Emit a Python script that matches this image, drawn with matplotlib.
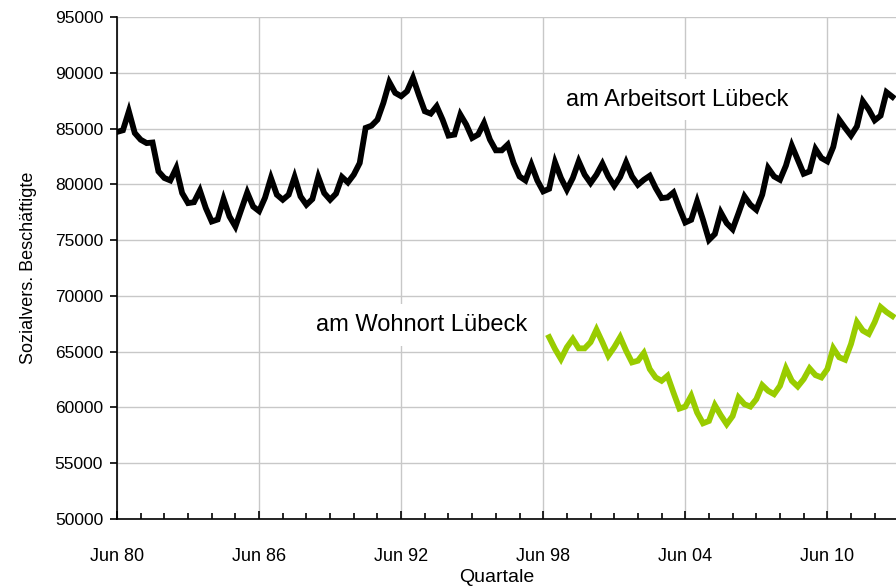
import matplotlib.pyplot as plt
import matplotlib as mpl
import numpy as np

mpl.rcParams['font.family'] = ['Liberation Sans', 'DejaVu Sans']

# Sozialversicherungspflichtig Beschäftigte, quarterly from Jun 1980
arbeitsort = [
    84700, 84850, 86550, 84600, 84000, 83700, 83750, 81160, 80570, 80350,
    81460, 79220, 78320, 78400, 79450, 77870, 76670, 76850, 78680, 77120,
    76220, 77750, 79270, 78010, 77600, 78800, 80570, 79070, 78620, 79070,
    80660, 78920, 78170, 78680, 80660, 79220, 78620, 79170, 80660, 80170,
    80870, 81910, 85060, 85260, 85800, 87300, 89160, 88200, 87900, 88350,
    89550, 88000, 86550, 86340, 87000, 85800, 84370, 84460, 86250, 85350,
    84160, 84460, 85500, 84010, 83050, 83050, 83560, 81910, 80710, 80350,
    81760, 80350, 79370, 79600, 81970, 80570, 79520, 80570, 82060, 80870,
    80120, 80870, 81850, 80710, 79870, 80660, 81970, 80710, 79960, 80410,
    80770, 79670, 78770, 78830, 79270, 77870, 76580, 76820, 78470, 76820,
    75020, 75550, 77480, 76520, 75980, 77420, 78920, 78170, 77720, 79070,
    81460, 80710, 80410, 81670, 83470, 82210, 80950, 81160, 83170, 82360,
    82060, 83350, 85800, 85060, 84370, 85200, 87450, 86700, 85740, 86160,
    88260, 87840,
]

wohnort_start = 73  # first quarter with data (Sep 98)
wohnort = [
    66300, 65240, 64340, 65400, 66140, 65300, 65300, 65850, 66980, 65850,
    64640, 65400, 66300, 65090, 64040, 64190, 64880, 63440, 62690, 62390,
    62840, 61340, 59900, 60080, 61040, 59540, 58580, 58790, 60200, 59300,
    58500, 59230, 60890, 60290, 60080, 60740, 62000, 61490, 61190, 61940,
    63500, 62390, 61880, 62540, 63500, 62900, 62690, 63440, 65310, 64500,
    64280, 65690, 67650, 66890, 66590, 67650, 69000, 68550, 68190,
]

tick_labels = ['Jun 80', 'Jun 86', 'Jun 92', 'Jun 98', 'Jun 04', 'Jun 10']

x_a = np.arange(len(arbeitsort))
x_w = np.arange(wohnort_start, wohnort_start + len(wohnort))

fig = plt.figure(figsize=(8.96, 5.87), dpi=100)
ax = fig.add_axes([0.1306, 0.1158, 0.8694, 0.8552])

ax.plot(x_a, arbeitsort, color='black', lw=4.2, solid_joinstyle='miter', zorder=3)
ax.plot(x_w, wohnort, color='#99cc00', lw=4.2, solid_joinstyle='miter', zorder=3)

ax.set_xlim(0, 131.6)
ax.set_ylim(50000, 95000)
ax.set_yticks(np.arange(50000, 95001, 5000))
ax.set_xticks(np.arange(0, 24 * len(tick_labels), 24))
ax.set_xticklabels(tick_labels)
ax.set_xticks(np.arange(0, 132, 4), minor=True)

ax.grid(True, which='major', color='#c8c8c8', lw=1)
ax.set_axisbelow(True)

for s in ['top', 'right']:
    ax.spines[s].set_visible(False)
ax.spines['left'].set_linewidth(1.2)
ax.spines['bottom'].set_linewidth(1.2)

ax.tick_params(axis='y', direction='out', length=5, width=1.2, pad=5, labelsize=12.5)
ax.tick_params(axis='x', which='major', direction='in', length=6, width=1.2, pad=21, labelsize=13)
ax.tick_params(axis='x', which='minor', direction='in', length=4, width=1.2)

ax.set_ylabel('Sozialvers. Beschäftigte', fontsize=13, labelpad=13)
ax.set_xlabel('Quartale', fontsize=14)
ax.xaxis.set_label_coords(0.488, -0.099)

box = dict(facecolor='white', edgecolor='none', pad=7)
ax.text(75.9, 87600, 'am Arbeitsort Lübeck', fontsize=17, va='center', ha='left', bbox=box, zorder=2)
ax.text(33.6, 67400, 'am Wohnort Lübeck', fontsize=17, va='center', ha='left', bbox=box, zorder=2)

plt.savefig('out.png', dpi=100)
plt.close()
